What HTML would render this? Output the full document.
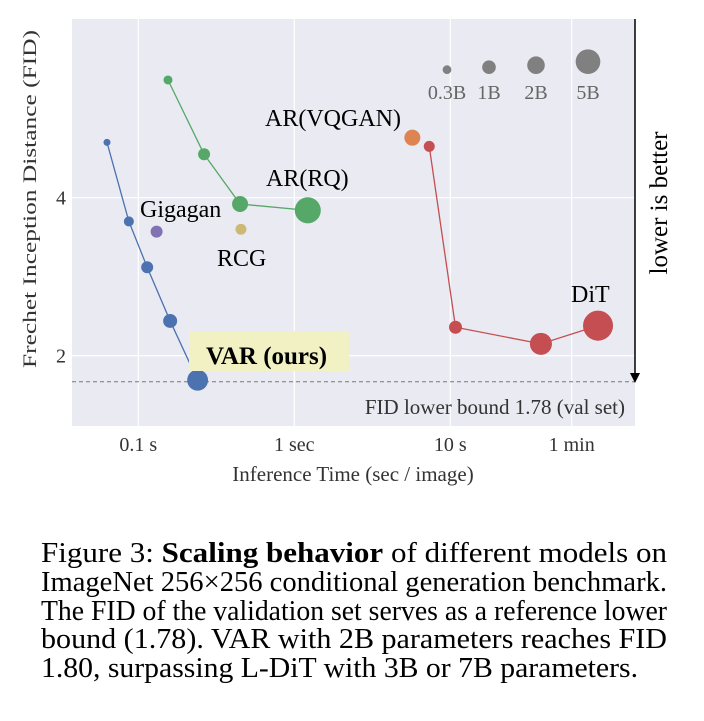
<!DOCTYPE html>
<html><head><meta charset="utf-8"><style>
body{margin:0;background:#fff;width:704px;height:716px;overflow:hidden}
svg text{font-family:"Liberation Serif",serif}
</style></head><body>
<svg id="chart" width="704" height="716" xmlns="http://www.w3.org/2000/svg">
<rect x="72" y="19" width="563" height="407" fill="#eaeaf2"/>
<g id="grid"></g>
<g id="series"></g>
<g id="labels"></g>
<rect x="189" y="331" width="160" height="40" fill="#f1f1c4"/>
<text x="206" y="364" font-size="25" font-weight="bold" fill="#000">VAR (ours)</text>
<text x="265" y="126" font-size="24">AR(VQGAN)</text>
<text x="266" y="186" font-size="24">AR(RQ)</text>
<text x="140" y="217" font-size="24">Gigagan</text>
<text x="217" y="266" font-size="24">RCG</text>
<text x="571" y="302" font-size="24">DiT</text>
<text x="625" y="414" font-size="21" text-anchor="end" fill="#333">FID lower bound 1.78 (val set)</text>
<line x1="635" y1="19" x2="635" y2="376" stroke="#000" stroke-width="1.5"/>
<polygon points="630,373 640,373 635,383" fill="#000"/>
<text transform="translate(667,203) rotate(-90)" font-size="25" text-anchor="middle">lower is better</text>
<text transform="translate(36,199) rotate(-90)" font-size="19" text-anchor="middle" fill="#333" textLength="338" lengthAdjust="spacingAndGlyphs">Frechet Inception Distance (FID)</text>
<text x="353" y="481" font-size="21" text-anchor="middle" fill="#333">Inference Time (sec / image)</text>
<g id="legend"></g>
<g font-size="28">
<text x="41" y="562" textLength="626" lengthAdjust="spacingAndGlyphs">Figure 3: <tspan font-weight="bold">Scaling behavior</tspan> of different models on</text>
<text x="41" y="591" textLength="626" lengthAdjust="spacingAndGlyphs">ImageNet 256×256 conditional generation benchmark.</text>
<text x="41" y="620" textLength="626" lengthAdjust="spacingAndGlyphs">The FID of the validation set serves as a reference lower</text>
<text x="41" y="648" textLength="626" lengthAdjust="spacingAndGlyphs">bound (1.78).  VAR with 2B parameters reaches FID</text>
<text x="41" y="677" textLength="597" lengthAdjust="spacingAndGlyphs">1.80, surpassing L-DiT with 3B or 7B parameters.</text>
</g>
</svg>
<script>
const xTickVals = [0.1, 1, 10, 60];
const xTickLabels = ["0.1 s", "1 sec", "10 s", "1 min"];
const yTickVals = [2, 4];
const yTickLabels = ["2", "4"];
const fidBound = 1.67;
const varTime = [0.063, 0.087, 0.114, 0.16, 0.24];
const varFid = [4.70, 3.70, 3.12, 2.44, 1.69];
const varParams = [0.17, 0.44, 0.71, 1.08, 3.2];
const rqTime = [0.155, 0.264, 0.449, 1.22];
const rqFid = [5.49, 4.55, 3.92, 3.84];
const rqParams = [0.33, 0.71, 1.55, 5.8];
const ditTime = [7.33, 10.8, 38.1, 88.5];
const ditFid = [4.65, 2.36, 2.15, 2.38];
const ditParams = [0.56, 0.88, 3.7, 8.5];
const singleNames = ["gigagan", "rcg", "ar-vqgan"];
const singleTime = [0.131, 0.455, 5.71];
const singleFid = [3.57, 3.60, 4.76];
const singleParams = [0.71, 0.56, 1.55];
const legendParams = [0.3, 1, 2, 5];
const legendLabels = ["0.3B", "1B", "2B", "5B"];

const NS = "http://www.w3.org/2000/svg";
const xS = t => 294.3 + Math.log10(t) * 156;
const yS = f => 355.7 - (f - 2) * 79;
const rS = p => 6.8 * Math.pow(p, 0.37);
function mk(tag, attrs, parent){const e=document.createElementNS(NS,tag);for(const k in attrs)e.setAttribute(k,attrs[k]);parent.appendChild(e);return e;}
const grid=document.getElementById('grid'), series=document.getElementById('series'), labels=document.getElementById('labels'), legend=document.getElementById('legend');
xTickVals.forEach((v,i)=>{
  const l=mk('line',{x1:xS(v),x2:xS(v),y1:19,y2:426,stroke:'#fff','stroke-width':1.2},grid);
  
  
  const t=mk('text',{x:xS(v),y:451,'font-size':20,'text-anchor':'middle',fill:'#333'},labels);
  t.textContent=xTickLabels[i];
  
  
});
yTickVals.forEach((v,i)=>{
  const l=mk('line',{x1:72,x2:635,y1:yS(v),y2:yS(v),stroke:'#fff','stroke-width':1.2},grid);
  
  
  const t=mk('text',{x:66,y:yS(v)+7,'font-size':20,'text-anchor':'end',fill:'#333'},labels);
  t.textContent=yTickLabels[i];
  
  
});
const bl=mk('line',{x1:72,x2:635,y1:yS(fidBound),y2:yS(fidBound),stroke:'#777','stroke-width':1,'stroke-dasharray':'4,3'},grid);


function drawSeries(name,ts,fs,ps,color){
  const pts=ts.map((t,i)=>xS(t)+','+yS(fs[i])).join(' ');
  const pl=mk('polyline',{points:pts,fill:'none',stroke:color,'stroke-width':1.3},series);
  
  
  ts.forEach((t,i)=>{
    const c=mk('circle',{cx:xS(t),cy:yS(fs[i]),r:rS(ps[i]),fill:color},series);
    
    
  });
}
drawSeries('var',varTime,varFid,varParams,'#4c72b0');
drawSeries('ar-rq',rqTime,rqFid,rqParams,'#55a868');
drawSeries('dit',ditTime,ditFid,ditParams,'#c44e52');
const singleColors=['#8172b3','#ccb974','#dd8452'];
singleTime.forEach((t,i)=>{
  const c=mk('circle',{cx:xS(t),cy:yS(singleFid[i]),r:rS(singleParams[i]),fill:singleColors[i]},series);
  
  
});
const legX=[447,489,536,588];
legendParams.forEach((p,i)=>{
  const r=rS(p);
  const c=mk('circle',{cx:legX[i],cy:74-r,r:r,fill:'#808080'},legend);
  
  
  const t=mk('text',{x:legX[i],y:99,'font-size':20,'text-anchor':'middle',fill:'#666'},legend);
  t.textContent=legendLabels[i];
  
  
});
</script>
</body></html>
